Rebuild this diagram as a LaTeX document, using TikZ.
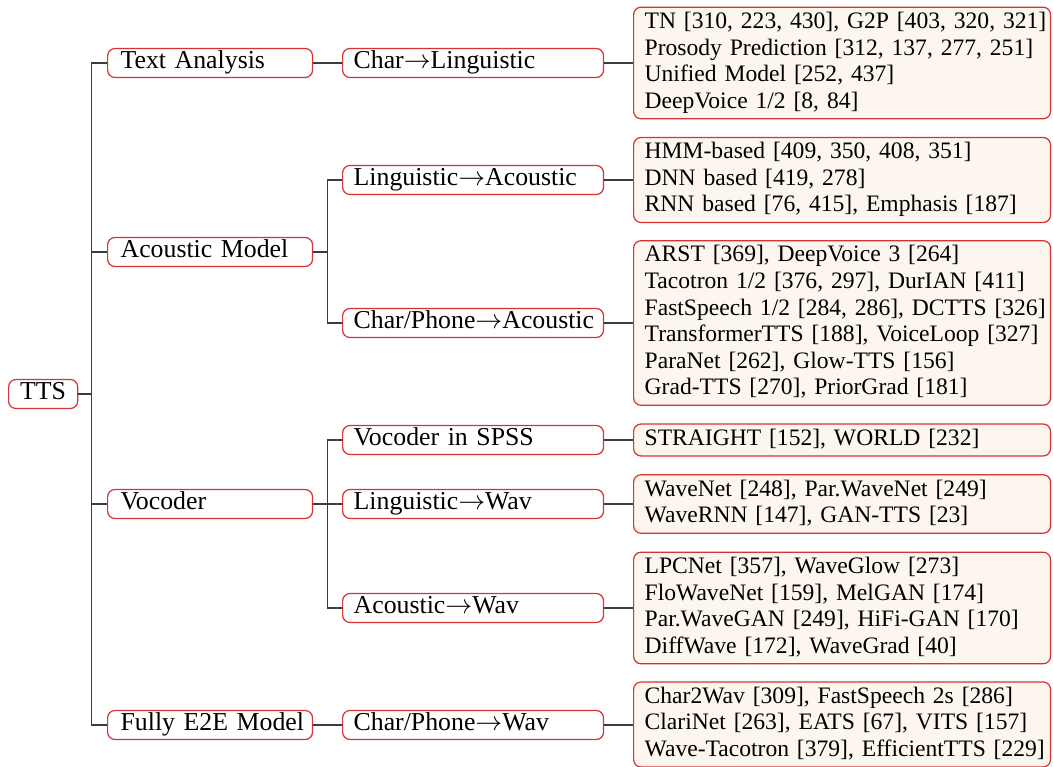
\documentclass[tikz,border=0pt]{standalone}
\usepackage{fontspec}
\setmainfont{Liberation Serif}
\definecolor{bord}{RGB}{214,52,52}
\definecolor{leaffill}{RGB}{252,246,238}
\definecolor{edgecol}{RGB}{60,60,60}
\newcommand\leaflines[1]{\noindent\begin{tabular}{@{\hspace{4.5pt}}l@{}}#1\end{tabular}}
\tikzset{
  basebox/.style={draw=bord, line width=0.5pt, rounded corners=3pt, anchor=west},
  levelfont/.style={font=\fontsize{10.5pt}{12pt}\selectfont},
  rootbox/.style={basebox, levelfont, fill=white, inner xsep=0pt, inner ysep=0pt, minimum width=28.1pt,
    minimum height=11.8pt, text height=7.2pt, text depth=2.4pt, align=center},
  lvlone/.style={basebox, levelfont, fill=white, inner xsep=0pt, inner ysep=0pt, text width=83.4pt,
    minimum height=11.8pt, text height=7.2pt, text depth=2.4pt, align=left,
    execute at begin node={\hspace*{5.3pt}}},
  lvltwo/.style={basebox, levelfont, fill=white, inner xsep=0pt, inner ysep=0pt, text width=106.2pt,
    minimum height=11.8pt, text height=7.2pt, text depth=2.4pt, align=left,
    execute at begin node={\hspace*{4.5pt}}},
  leafbox/.style={basebox, fill=leaffill, inner xsep=0pt, inner ysep=1.1pt, text width=169.7pt, align=left,
    font=\fontsize{9.6pt}{10.8pt}\selectfont},
  edge/.style={draw=edgecol, line width=0.5pt},
}
\begin{document}
\begin{tikzpicture}[x=0.407pt, y=-0.407pt]
\useasboundingbox (0,0) rectangle (1053,767);
% root
\node[rootbox] (tts) at (8,394) {TTS};
% level 1
\node[lvlone] (ta) at (107,63) {Text Analysis};
\node[lvlone] (am) at (107,252) {Acoustic Model};
\node[lvlone] (voc) at (107,504) {Vocoder};
\node[lvlone] (e2e) at (107,725) {Fully E2E Model};
% level 2
\node[lvltwo] (c2l) at (342,63) {Char$\rightarrow$Linguistic};
\node[lvltwo] (l2a) at (342,180) {Linguistic$\rightarrow$Acoustic};
\node[lvltwo] (cp2a) at (342,323) {Char/Phone$\rightarrow$Acoustic};
\node[lvltwo] (spss) at (342,440) {Vocoder in SPSS};
\node[lvltwo] (l2w) at (342,504) {Linguistic$\rightarrow$Wav};
\node[lvltwo] (a2w) at (342,608) {Acoustic$\rightarrow$Wav};
\node[lvltwo] (cp2w) at (342,725) {Char/Phone$\rightarrow$Wav};
% leaves
\node[leafbox] (f1) at (633,63) {\leaflines{TN [310, 223, 430], G2P [403, 320, 321]\\Prosody Prediction [312, 137, 277, 251]\\Unified Model [252, 437]\\DeepVoice 1/2 [8, 84]}};
\node[leafbox] (f2) at (633,180) {\leaflines{HMM-based [409, 350, 408, 351]\\DNN based [419, 278]\\RNN based [76, 415], Emphasis [187]}};
\node[leafbox] (f3) at (633,323) {\leaflines{ARST [369], DeepVoice 3 [264]\\Tacotron 1/2 [376, 297], DurIAN [411]\\FastSpeech 1/2 [284, 286], DCTTS [326]\\TransformerTTS [188], VoiceLoop [327]\\ParaNet [262], Glow-TTS [156]\\Grad-TTS [270], PriorGrad [181]}};
\node[leafbox] (f4) at (633,440) {\leaflines{STRAIGHT [152], WORLD [232]}};
\node[leafbox] (f5) at (633,504) {\leaflines{WaveNet [248], Par.WaveNet [249]\\WaveRNN [147], GAN-TTS [23]}};
\node[leafbox] (f6) at (633,608) {\leaflines{LPCNet [357], WaveGlow [273]\\FloWaveNet [159], MelGAN [174]\\Par.WaveGAN [249], HiFi-GAN [170]\\DiffWave [172], WaveGrad [40]}};
\node[leafbox] (f7) at (633,724.5) {\leaflines{Char2Wav [309], FastSpeech 2s [286]\\ClariNet [263], EATS [67], VITS [157]\\Wave-Tacotron [379], EfficientTTS [229]}};
% edges
\draw[edge] (tts.east) -- ++(13,0) |- (ta.west);
\draw[edge] (tts.east) -- ++(13,0) |- (am.west);
\draw[edge] (tts.east) -- ++(13,0) |- (voc.west);
\draw[edge] (tts.east) -- ++(13,0) |- (e2e.west);
\draw[edge] (ta.east) -- (ta.east -| c2l.west);
\draw[edge] (am.east) -- ++(14,0) |- (l2a.west);
\draw[edge] (am.east) -- ++(14,0) |- (cp2a.west);
\draw[edge] (voc.east) -- ++(14,0) |- (spss.west);
\draw[edge] (voc.east) -- ++(14,0) |- (l2w.west);
\draw[edge] (voc.east) -- ++(14,0) |- (a2w.west);
\draw[edge] (e2e.east) -- (e2e.east -| cp2w.west);
\draw[edge] (c2l.east) -- (c2l.east -| f1.west);
\draw[edge] (l2a.east) -- (l2a.east -| f2.west);
\draw[edge] (cp2a.east) -- (cp2a.east -| f3.west);
\draw[edge] (spss.east) -- (spss.east -| f4.west);
\draw[edge] (l2w.east) -- (l2w.east -| f5.west);
\draw[edge] (a2w.east) -- (a2w.east -| f6.west);
\draw[edge] (cp2w.east) -- (cp2w.east -| f7.west);
\end{tikzpicture}
\end{document}
